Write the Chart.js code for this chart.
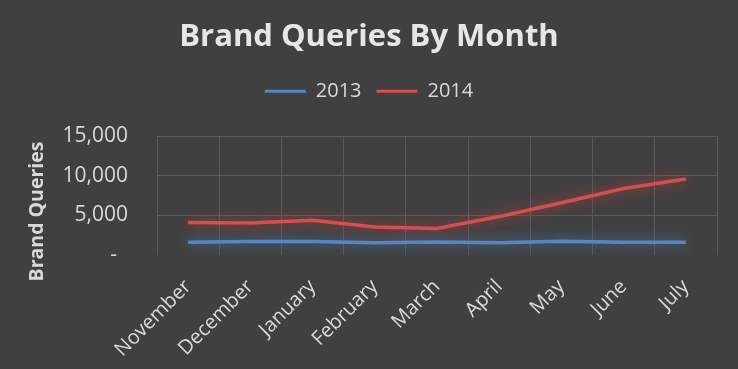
<!DOCTYPE html>
<html><head><meta charset="utf-8">
<script src="https://cdn.jsdelivr.net/npm/chart.js@4"></script>
<style>html,body{margin:0;padding:0;background:#404040;}#w{width:738px;height:369px;}</style>
</head><body><div id="w"><canvas id="c"></canvas></div>
<script>
const categories = ["November","December","January","February","March","April","May","June","July"];
const series2013 = [1600,1700,1700,1550,1650,1550,1750,1600,1600];
const series2014 = [4100,4050,4400,3550,3350,4850,6600,8400,9600];
const yTicks = [0,5000,10000,15000];
const yAxisTitle = 'Brand Queries';

const glow = {
  id:'glow',
  afterInit(chart){
    const lg = chart.legend;
    if (lg && lg.fit) { const f = lg.fit.bind(lg); lg.fit = function(){ f(); this.height += 25; }; }
  },
  beforeDatasetDraw(chart,args){
    const ctx=chart.ctx; ctx.save();
    ctx.shadowColor = args.index===0 ? 'rgba(79,129,189,0.95)' : 'rgba(220,60,60,0.9)';
    ctx.shadowBlur = 13;
  },
  afterDatasetDraw(chart){ chart.ctx.restore(); },
  afterDraw(chart){
    const ctx=chart.ctx; ctx.save();
    ctx.translate(37,211.5); ctx.rotate(-Math.PI/2);
    ctx.fillStyle='#d9d9d9'; ctx.font='bold 19.5px "Open Sans"';
    ctx.textAlign='center'; ctx.textBaseline='middle';
    ctx.fillText(yAxisTitle,0,0); ctx.restore();
  }
};

new Chart(document.getElementById('c'),{
  type:'line',
  data:{labels:categories,datasets:[
    {label:'2013',data:series2013,borderColor:'#5487c6',backgroundColor:'#5487c6',borderWidth:3.5,pointRadius:0,tension:0},
    {label:'2014',data:series2014,borderColor:'#d44f4f',backgroundColor:'#d44f4f',borderWidth:3.5,pointRadius:0,tension:0}
  ]},
  options:{
    responsive:true,maintainAspectRatio:false,animation:false,
    layout:{padding:{left:21,right:21,top:14,bottom:0}},
    plugins:{
      title:{display:true,text:'Brand Queries By Month',color:'#e6e6e6',font:{family:'Open Sans',size:31,weight:'bold'},padding:{top:5,bottom:10}},
      legend:{labels:{color:'#d9d9d9',font:{family:'Open Sans',size:20},boxWidth:41,boxHeight:3,padding:15,
        generateLabels(chart){return chart.data.datasets.map((d,i)=>({text:d.label,fillStyle:d.borderColor,strokeStyle:d.borderColor,lineWidth:0,fontColor:'#d9d9d9',datasetIndex:i}));}}},
      tooltip:{enabled:false}
    },
    scales:{
      x:{offset:true,grid:{color:'#5a5a5a',offset:true,drawTicks:false},border:{display:false},
        afterFit(a){a.height=114;},
        ticks:{color:'#d9d9d9',font:{family:'Open Sans',size:20},maxRotation:45,minRotation:45,padding:20,autoSkip:false}},
      y:{min:0,max:15000,afterBuildTicks(a){a.ticks=yTicks.map(v=>({value:v}));},
        afterFit(a){a.width=136;},
        grid:{color:(c)=>c.tick && c.tick.value===0?'rgba(0,0,0,0)':'#5a5a5a',drawTicks:false},border:{display:false},
        ticks:{color:'#d9d9d9',font:{family:'Open Sans',size:21},padding:29,callback:v=>v===0?'-  ':v.toLocaleString('en-US')}}
    }
  },
  plugins:[glow]
});
</script></body></html>
